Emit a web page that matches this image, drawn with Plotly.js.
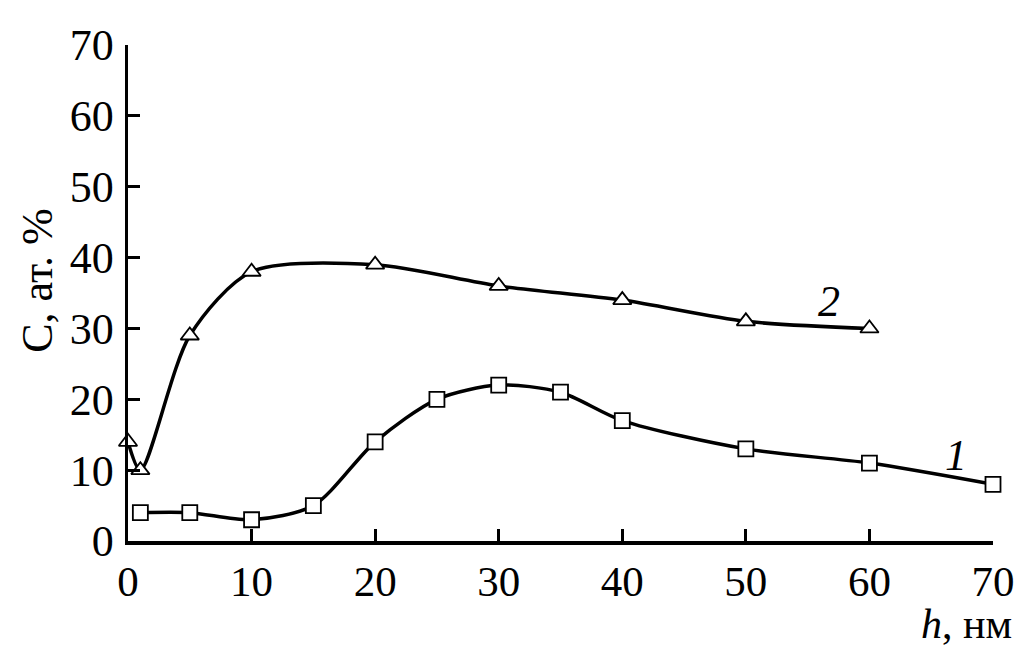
<!DOCTYPE html>
<html>
<head>
<meta charset="utf-8">
<script src="https://cdn.plot.ly/plotly-3.0.1.min.js"></script>
<style>html,body{margin:0;padding:0;background:#fff;}#chart{width:1020px;height:656px;}</style>
</head>
<body>
<div id="chart"></div>
<script>
// Curve 1 (squares)
const h1 = [1, 5, 10, 15, 20, 25, 30, 35, 40, 50, 60, 70];
const c1 = [4, 4, 3, 5, 14, 20, 22, 21, 17, 13, 11, 8];
// Curve 2 (triangles)
const h2 = [0, 1, 5, 10, 20, 30, 40, 50, 60];
const c2 = [14, 10, 29, 38, 39, 36, 34, 31, 30];
const xTicks = [0, 10, 20, 30, 40, 50, 60, 70];
const yTicks = [0, 10, 20, 30, 40, 50, 60, 70];
const seriesLabels = ["1", "2"];

const FONT = "Liberation Serif, Times New Roman, serif";
const FS = 44;

const traces = [
  {
    x: h1, y: c1, mode: "lines+markers", type: "scatter",
    line: {color: "#000", width: 3.5, shape: "spline", smoothing: 0.8},
    marker: {symbol: "square", size: 15, color: "#fff", line: {color: "#000", width: 1.8}},
    cliponaxis: false, showlegend: false
  },
  {
    x: h2, y: c2, mode: "lines+markers", type: "scatter",
    line: {color: "#000", width: 3.5, shape: "spline", smoothing: 0.8},
    marker: {symbol: "triangle-up", size: 16, color: "#fff", line: {color: "#000", width: 1.8}},
    cliponaxis: false, showlegend: false
  }
];

const layout = {
  width: 1020, height: 656,
  margin: {l: 128, r: 27, t: 45, b: 115},
  paper_bgcolor: "#fff", plot_bgcolor: "#fff",
  font: {family: FONT, color: "#000", size: FS},
  xaxis: {
    range: [0, 70], tickvals: xTicks, ticktext: xTicks.map(String),
    showgrid: false, zeroline: false, showline: true, linecolor: "#000", linewidth: 3.5,
    ticks: "inside", ticklen: 12, tickwidth: 3, tickcolor: "#000", ticklabelstandoff: 0,
    tickfont: {family: FONT, size: 43, color: "#000"}
  },
  yaxis: {
    range: [0, 70], tickvals: yTicks, ticktext: yTicks.map(String),
    showgrid: false, zeroline: false, showline: true, linecolor: "#000", linewidth: 3.5,
    ticks: "inside", ticklen: 12, tickwidth: 3, tickcolor: "#000", ticklabelstandoff: 2,
    tickfont: {family: FONT, size: FS, color: "#000"}
  },
  annotations: [
    {xref: "paper", yref: "paper", x: 1.023, y: -0.118, xanchor: "right", yanchor: "top",
     borderpad: 0, text: "<i>h</i>, нм", showarrow: false, font: {family: FONT, size: 42, color: "#000"}},
    {xref: "paper", yref: "paper", x: -0.105, y: 0.525, xanchor: "center", yanchor: "middle",
     textangle: -90, text: "C, ат. %", showarrow: false, font: {family: FONT, size: FS, color: "#000"}},
    {xref: "x", yref: "y", x: 56.7, y: 33.8, text: "<i>" + seriesLabels[1] + "</i>", showarrow: false,
     font: {family: FONT, size: FS, color: "#000"}},
    {xref: "x", yref: "y", x: 67, y: 12, text: "<i>" + seriesLabels[0] + "</i>", showarrow: false,
     font: {family: FONT, size: FS, color: "#000"}}
  ]
};

Plotly.newPlot("chart", traces, layout, {displayModeBar: false, staticPlot: true});
</script>
</body>
</html>
